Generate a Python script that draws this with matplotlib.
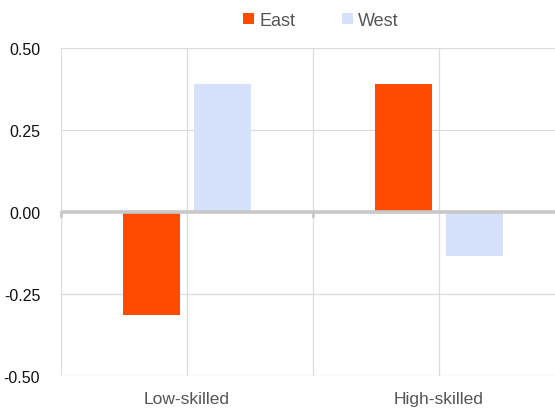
import matplotlib
matplotlib.use("Agg")
import matplotlib.pyplot as plt
import numpy as np

categories = ["Low-skilled", "High-skilled"]
east = [-0.315, 0.39]
west = [0.39, -0.135]
yticks = [-0.50, -0.25, 0.00, 0.25, 0.50]

plt.rcParams["font.family"] = ["Liberation Sans", "DejaVu Sans"]

fig = plt.figure(figsize=(5.55, 4.10), dpi=100)
ax = fig.add_axes([61 / 555, 1 - 377 / 410, 1 - 61 / 555, (377 - 48.5) / 410])

x = np.arange(len(categories))
w = 0.226
ax.bar(x - 0.141, east, w, color="#ff4b00", label="East", zorder=3)
ax.bar(x + 0.141, west, w, color="#d6e2fb", label="West", zorder=3)

ax.set_xlim(-0.5, 1.46)
ax.set_ylim(-0.5, 0.5)

# grid: horizontal at ticks, vertical at category centres and boundaries
for y in yticks:
    if y != 0:
        ax.axhline(y, color="#dcdcdc", lw=0.9, zorder=1)
for xv in [-0.5, 0, 0.5, 1.0, 1.5]:
    ax.axvline(xv, color="#dcdcdc", lw=0.9, zorder=1)
ax.axhline(0, color="#c8c8c8", lw=2.6, zorder=4)
for xv in [-0.5, 0.5]:
    ax.plot([xv, xv], [0, -0.012], color="#c8c8c8", lw=2.0, zorder=4, clip_on=False)

for s in ax.spines.values():
    s.set_visible(False)

ax.set_yticks(yticks)
ax.set_yticklabels([f"{v:.2f}" for v in yticks], fontsize=11.5, color="#111111")
ax.set_xticks(x)
ax.set_xticklabels(categories, fontsize=12.5, color="#555555")
ax.tick_params(axis="both", length=0)
ax.tick_params(axis="y", pad=15)
ax.tick_params(axis="x", pad=11)

fig.legend(loc="upper center", bbox_to_anchor=(0.578, 1.008), ncol=2, frameon=False,
           fontsize=13, labelcolor="#555555", handlelength=0.6, handleheight=0.6,
           handletextpad=0.3, columnspacing=2.6)

fig.savefig("out.png", dpi=100)
